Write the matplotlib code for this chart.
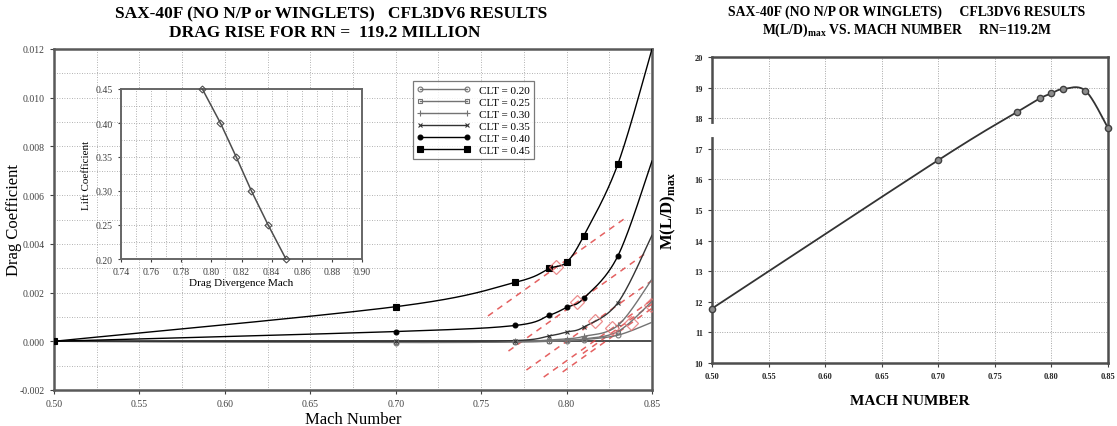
#!/usr/bin/env python3
"""SAX-40F drag rise (CFL3DV6) and M(L/D)max vs Mach, two panels side by side."""
import numpy as np
import matplotlib
matplotlib.use("Agg")
import matplotlib.pyplot as plt
from matplotlib.lines import Line2D
from matplotlib.ticker import MultipleLocator, FormatStrFormatter

plt.rcParams.update({
    "font.family": ["Liberation Serif", "DejaVu Serif"],
    "mathtext.fontset": "custom",
    "mathtext.rm": "Liberation Serif",
    "mathtext.bf": "Liberation Serif:bold",
    "font.size": 8,
    "xtick.labelsize": 7,
    "ytick.labelsize": 7,
    "xtick.color": "0.25",
    "ytick.color": "0.25",
})

# drag rise, delta CD relative to M = 0.50
mach = [0.50, 0.70, 0.77, 0.79, 0.80, 0.81, 0.83, 0.85]
cd_020 = [0.0, -0.00005, -0.00003, 0.0, 0.00003, 0.00007, 0.00025, 0.00078]
cd_025 = [0.0, -0.00004, -0.00002, 0.00002, 0.00005, 0.00010, 0.00040, 0.00164]
cd_030 = [0.0, -0.00003, 0.0, 0.00005, 0.00010, 0.00020, 0.00065, 0.00255]
cd_035 = [0.0, 0.0, 0.00003, 0.00022, 0.00038, 0.00058, 0.00158, 0.00435]
cd_040 = [0.0, 0.00040, 0.00065, 0.00107, 0.00139, 0.00176, 0.00350, 0.00740]
cd_045 = [0.0, 0.00142, 0.00242, 0.00299, 0.00325, 0.00432, 0.00727, 0.01200]
clt_labels = ["CLT = 0.20", "CLT = 0.25", "CLT = 0.30", "CLT = 0.35", "CLT = 0.40", "CLT = 0.45"]

# drag divergence points (red diamonds) and slope of the dashed criterion lines
dd_mach = [0.8495, 0.8377, 0.8266, 0.8165, 0.806, 0.794]
dd_cd = [0.0015, 0.00074, 0.00053, 0.00082, 0.0016, 0.00304]
dd_slope = 0.05

# inset: lift coefficient vs drag divergence mach
inset_cl = [0.20, 0.25, 0.30, 0.35, 0.40, 0.45]

# right panel
mach_r = [0.50, 0.70, 0.77, 0.79, 0.80, 0.81, 0.83, 0.85]
mld_max = [11.78, 16.63, 18.21, 18.65, 18.81, 18.95, 18.90, 17.68]


def smooth(x, y, n=40):
    # spreadsheet-style smoothed line (Catmull-Rom bezier through the points)
    P = np.column_stack([x, y]).astype(float)
    ext = np.vstack([P[0], P, P[-1]])
    t = np.linspace(0, 1, n)[:, None]
    segs = []
    for i in range(len(P) - 1):
        p0, p1, p2, p3 = ext[i], ext[i + 1], ext[i + 2], ext[i + 3]
        c1 = p1 + (p2 - p0) / 6
        c2 = p2 - (p3 - p1) / 6
        segs.append((1 - t) ** 3 * p1 + 3 * (1 - t) ** 2 * t * c1
                    + 3 * (1 - t) * t ** 2 * c2 + t ** 3 * p2)
    out = np.vstack(segs)
    return out[:, 0], out[:, 1]


W, H = 1117, 427
fig = plt.figure(figsize=(W / 100, H / 100), dpi=100)

# ---- left: drag rise ----
ax = fig.add_axes([54 / W, (H - 391) / H, 598 / W, 341 / H])
styles = [
    (cd_020, "o", "0.45", "none", 3.5),
    (cd_025, "s", "0.45", "none", 3),
    (cd_030, "+", "0.45", "none", 4.5),
    (cd_035, "x", "0.2", "none", 3.5),
    (cd_040, "o", "black", "black", 3.5),
    (cd_045, "s", "black", "black", 4),
]
handles = []
for (cd, mk, col, mfc, ms), lab in zip(styles, clt_labels):
    xs, ys = smooth(mach, cd)
    ax.plot(xs, ys, color=col, lw=1.0, zorder=4)
    ax.plot(mach[:-1], cd[:-1], ls="none", marker=mk, ms=ms, mfc=mfc,
            mec=col, mew=0.8, zorder=5)
    handles.append(Line2D([], [], color=col, lw=1.0, marker=mk, ms=ms,
                          mfc=mfc, mec=col, mew=0.8, label=lab))

for m, c in zip(dd_mach, dd_cd):
    xs = np.array([m - 0.04, m + 0.04])
    ax.plot(xs, c + dd_slope * (xs - m), color="#e04545", lw=1.1,
            dashes=(4, 3.5), alpha=0.85, zorder=3)
ax.plot(dd_mach, dd_cd, ls="none", marker="D", ms=7, mfc="none",
        mec="#e87070", mew=0.9, alpha=0.8, zorder=6)

ax.axhline(0, color="0.3", lw=1.4, zorder=2)
ax.set_xlim(0.50, 0.85)
ax.set_ylim(-0.002, 0.012)
ax.xaxis.set_major_locator(MultipleLocator(0.05))
ax.xaxis.set_minor_locator(MultipleLocator(0.025))
ax.yaxis.set_major_locator(MultipleLocator(0.002))
ax.yaxis.set_minor_locator(MultipleLocator(0.001))
ax.xaxis.set_major_formatter(FormatStrFormatter("%.2f"))
ax.yaxis.set_major_formatter(FormatStrFormatter("%.3f"))
ax.grid(which="both", color="0.6", ls=(0, (1, 2)), lw=0.6)
ax.tick_params(which="major", length=3, width=0.8, direction="out")
ax.tick_params(which="minor", length=0)
for s in ax.spines.values():
    s.set_color("0.35")
    s.set_linewidth(1.8)
ax.set_xlabel("Mach Number", fontsize=12, labelpad=2)
ax.set_ylabel("Drag Coefficient", fontsize=12)
ax.yaxis.set_label_coords(-0.054, 0.5)
ax.legend(handles=handles, loc="upper left", bbox_to_anchor=(0.6, 0.905),
          fontsize=8, frameon=True, fancybox=False, edgecolor="0.35",
          numpoints=2, handlelength=4.8, labelspacing=0.2, borderpad=0.35,
          handletextpad=0.8, borderaxespad=0).get_frame().set_linewidth(0.9)

# ---- inset ----
axi = fig.add_axes([121 / W, (H - 260) / H, 241 / W, 170 / H])
axi.set_facecolor("white")
axi.plot(dd_mach, inset_cl, color="0.3", lw=1.1, marker="D", ms=3.5,
         mfc="none", mec="0.3", mew=0.8, clip_on=False, zorder=4)
axi.set_xlim(0.74, 0.90)
axi.set_ylim(0.20, 0.45)
axi.xaxis.set_major_locator(MultipleLocator(0.02))
axi.xaxis.set_minor_locator(MultipleLocator(0.01))
axi.yaxis.set_major_locator(MultipleLocator(0.05))
axi.yaxis.set_minor_locator(MultipleLocator(0.025))
axi.xaxis.set_major_formatter(FormatStrFormatter("%.2f"))
axi.yaxis.set_major_formatter(FormatStrFormatter("%.2f"))
axi.grid(which="both", color="0.6", ls=(0, (1, 2)), lw=0.6)
axi.tick_params(which="major", length=2.5, width=0.8, labelsize=7)
axi.tick_params(which="minor", length=0)
for s in axi.spines.values():
    s.set_color("0.4")
    s.set_linewidth(1.4)
axi.set_xlabel("Drag Divergence Mach", fontsize=8, labelpad=1)
axi.set_ylabel("Lift Coefficient", fontsize=8, labelpad=3)

fig.text(331 / W, 1 - 14 / H, "SAX-40F (NO N/P or WINGLETS)   CFL3DV6 RESULTS",
         ha="center", va="center", fontsize=12.5, fontweight="bold")
fig.text(325 / W, 1 - 33 / H, "DRAG RISE FOR RN =  119.2 MILLION",
         ha="center", va="center", fontsize=12.5, fontweight="bold")

# ---- right: M(L/D)max ----
axr = fig.add_axes([712 / W, (H - 364) / H, 396 / W, 306 / H])
xs, ys = smooth(mach_r, mld_max)
axr.plot(xs, ys, color="0.2", lw=1.3, zorder=4)
axr.plot(mach_r, mld_max, ls="none", marker="o", ms=4.5, mfc="0.55",
         mec="0.25", mew=1.0, clip_on=False, zorder=5)
axr.set_xlim(0.50, 0.85)
axr.set_ylim(10, 20)
axr.xaxis.set_major_locator(MultipleLocator(0.05))
axr.yaxis.set_major_locator(MultipleLocator(1))
axr.xaxis.set_major_formatter(FormatStrFormatter("%.2f"))
axr.grid(color="0.65", ls=(0, (1, 1.5)), lw=0.7)
axr.tick_params(length=3, width=0.8, labelsize=6, labelcolor="0.15")
for lab in axr.get_xticklabels() + axr.get_yticklabels():
    lab.set_fontweight("bold")
for s in axr.spines.values():
    s.set_color("0.3")
    s.set_linewidth(1.8)
# small break in the left spine
axr.plot([0.50, 0.50], [17.45, 17.75], color="white", lw=3, clip_on=False, zorder=6)
axr.set_xlabel("MACH NUMBER", fontsize=11, fontweight="bold", labelpad=10)
axr.set_ylabel(r"M(L/D)$_{\mathbf{max}}$", fontsize=12, fontweight="bold", labelpad=12)

fig.text(907 / W, 1 - 12 / H, "SAX-40F (NO N/P OR WINGLETS)     CFL3DV6 RESULTS",
         ha="center", va="center", fontsize=9.9, fontweight="bold")
fig.text(907 / W, 1 - 30 / H, r"M(L/D)$_{\mathbf{max}}$ VS. MACH NUMBER     RN=119.2M",
         ha="center", va="center", fontsize=9.9, fontweight="bold")

fig.savefig("out.png", dpi=100)
